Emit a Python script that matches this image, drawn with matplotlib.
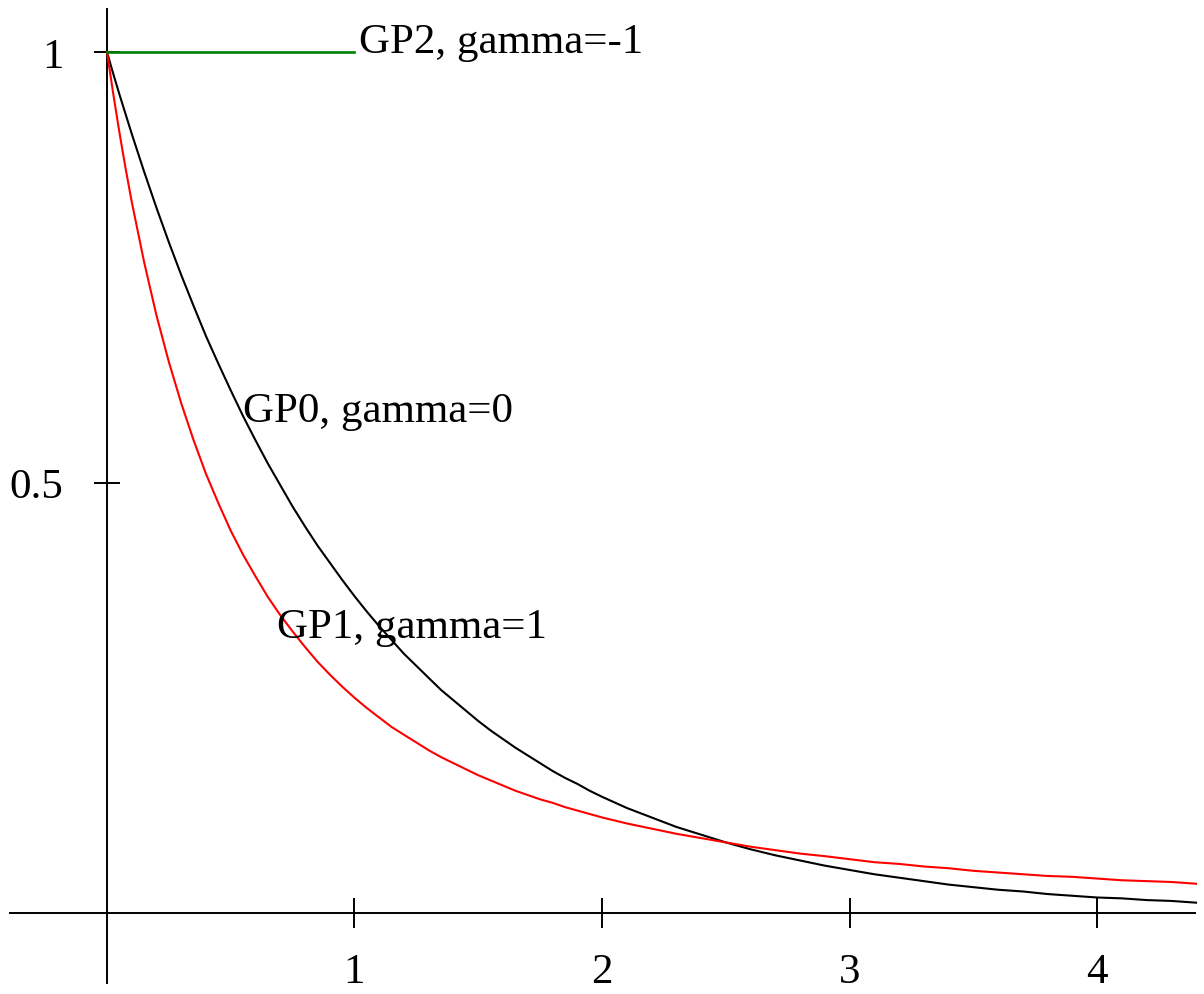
import matplotlib
matplotlib.use("Agg")
import matplotlib.pyplot as plt

# Data
x_vals = [0.0, 0.025, 0.05, 0.075, 0.1, 0.15, 0.2, 0.25, 0.3, 0.35, 0.4, 0.45, 0.5,
          0.55, 0.6, 0.65, 0.7, 0.75, 0.8, 0.85, 0.9, 0.95, 1.0, 1.05, 1.1, 1.15,
          1.2, 1.25, 1.3, 1.35, 1.4, 1.45, 1.5, 1.55, 1.6, 1.65, 1.7, 1.75, 1.8,
          1.85, 1.9, 1.95, 2.0, 2.1, 2.2, 2.3, 2.4,
          2.5, 2.6, 2.7, 2.8, 2.9, 3.0, 3.1, 3.2, 3.3, 3.4, 3.5, 3.6, 3.7, 3.8,
          3.9, 4.0, 4.1, 4.2, 4.3, 4.4]
gp0_vals = [1.000, 0.975, 0.951, 0.928, 0.905, 0.861, 0.819, 0.779, 0.741, 0.705,
            0.670, 0.638, 0.607, 0.577, 0.549, 0.522, 0.497, 0.472, 0.449, 0.427,
            0.407, 0.387, 0.368, 0.350, 0.333, 0.317, 0.301, 0.287, 0.273, 0.259,
            0.247, 0.235, 0.223, 0.212, 0.202, 0.192, 0.183, 0.174, 0.165, 0.157,
            0.150, 0.142, 0.135, 0.122, 0.111, 0.100, 0.091,
            0.082, 0.074, 0.067, 0.061, 0.055, 0.050, 0.045, 0.041, 0.037, 0.033,
            0.030, 0.027, 0.025, 0.022, 0.020, 0.018, 0.017, 0.015, 0.014, 0.012]
gp1_vals = [1.000, 0.952, 0.907, 0.865, 0.826, 0.756, 0.694, 0.640, 0.592, 0.549,
            0.510, 0.476, 0.444, 0.416, 0.391, 0.367, 0.346, 0.327, 0.309, 0.292,
            0.277, 0.263, 0.250, 0.238, 0.227, 0.216, 0.207, 0.198, 0.189, 0.181,
            0.174, 0.167, 0.160, 0.154, 0.148, 0.142, 0.137, 0.132, 0.128, 0.123,
            0.119, 0.115, 0.111, 0.104, 0.098, 0.092, 0.087,
            0.082, 0.077, 0.073, 0.069, 0.066, 0.0625, 0.059, 0.057, 0.054, 0.052,
            0.049, 0.047, 0.045, 0.043, 0.042, 0.040, 0.038, 0.037, 0.036, 0.034]
gp2_x = [0.0, 1.0]
gp2_vals = [1.0, 1.0]

x_ticks = [1, 2, 3, 4]
x_tick_labels = ["1", "2", "3", "4"]
y_ticks = [0.5, 1]
y_tick_labels = ["0.5", "1"]

labels = ["GP0, gamma=0", "GP1, gamma=1", "GP2, gamma=-1"]

plt.rcParams['font.family'] = ['Liberation Serif', 'DejaVu Serif']

fig = plt.figure(figsize=(12.04, 9.95), dpi=100)
ax = fig.add_axes([0, 0, 1, 1])
ax.set_xlim(-0.4323, 4.4323)
ax.set_ylim(-0.0941, 1.0616)

ax.plot(x_vals, gp0_vals, color='black', lw=1.5, zorder=3, solid_joinstyle='round')
ax.plot(x_vals, gp1_vals, color='red', lw=1.5, zorder=3, solid_joinstyle='round')
ax.plot(gp2_x, gp2_vals, color='green', lw=1.9, zorder=3)

fs = 31
ax.text(0.55, 0.571, labels[0], fontsize=fs, ha='left', va='baseline')
ax.text(0.687, 0.3206, labels[1], fontsize=fs, ha='left', va='baseline')
ax.text(1.02, 1.0, labels[2], fontsize=fs, ha='left', va='baseline')

for side in ['top', 'right']:
    ax.spines[side].set_visible(False)
ax.spines['left'].set_position(('data', 0))
ax.spines['bottom'].set_position(('data', 0))
ax.spines['left'].set_bounds(-0.0813, 1.05)
ax.spines['bottom'].set_bounds(-0.392, 4.396)
for side in ['left', 'bottom']:
    ax.spines[side].set_linewidth(1.4)
    ax.spines[side].set_zorder(2)

ax.set_xticks(x_ticks)
ax.set_xticklabels(x_tick_labels)
ax.set_yticks(y_ticks)
ax.set_yticklabels(y_tick_labels)
ax.tick_params(axis='x', direction='inout', length=21.6, width=1.4, pad=18, labelsize=fs)
ax.tick_params(axis='y', direction='inout', length=18.7, width=1.4, pad=22, labelsize=fs)

fig.savefig("out.png", dpi=100)
